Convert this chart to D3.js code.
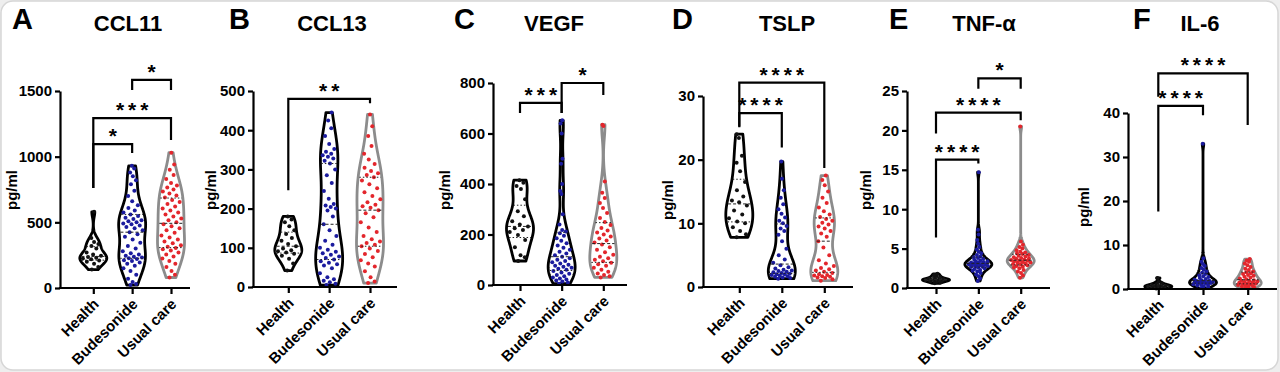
<!DOCTYPE html>
<html>
<head>
<meta charset="utf-8">
<script src="https://cdnjs.cloudflare.com/ajax/libs/d3/7.8.5/d3.min.js"></script>
<style>
  body { margin: 0; background: #eeeeee; }
  svg { display: block; font-family: Arial, "Liberation Sans", sans-serif; }
</style>
</head>
<body>
<svg id="chart" width="1280" height="372"></svg>
<script>
    // ---- data ----
    const groups = ["Health", "Budesonide", "Usual care"];
    const panelLetters = ["A", "B", "C", "D", "E", "F"];
    const panelTitles = ["CCL11", "CCL13", "VEGF", "TSLP", "TNF-α", "IL-6"];
    const yMax = [1500, 500, 800, 30, 25, 40];
    const yTicks = [
        [0, 500, 1000, 1500],
        [0, 100, 200, 300, 400, 500],
        [0, 200, 400, 600, 800],
        [0, 10, 20, 30],
        [0, 5, 10, 15, 20, 25],
        [0, 10, 20, 30, 40]
    ];

    const ccl11Health = [140, 160, 185, 200, 210, 218, 225, 230, 236, 245, 255, 270, 300, 320, 335, 350, 380, 580];
    const ccl11Bud = [22, 30, 45, 70, 100, 130, 150, 170, 185, 195, 205, 212, 220, 226, 232, 238, 245, 255, 265, 280, 300, 320, 345, 370, 390, 410, 425, 440, 455, 465, 475, 485, 492, 500, 508, 516, 525, 535, 548, 560, 575, 590, 610, 630, 660, 700, 740, 790, 820, 850, 880, 910, 930];
    const ccl11Usual = [80, 100, 130, 160, 185, 205, 225, 240, 255, 270, 285, 295, 305, 315, 325, 340, 355, 370, 385, 400, 420, 440, 455, 470, 485, 500, 515, 530, 545, 560, 575, 590, 605, 620, 640, 655, 670, 690, 705, 720, 735, 750, 765, 780, 800, 830, 860, 900, 940, 1030];

    const ccl13Health = [42, 60, 72, 80, 85, 88, 91, 94, 98, 104, 110, 118, 125, 135, 145, 155, 165, 172, 180];
    const ccl13Bud = [5, 8, 12, 16, 20, 25, 35, 48, 55, 58, 62, 66, 70, 74, 78, 82, 86, 90, 95, 100, 108, 118, 130, 145, 160, 180, 195, 200, 204, 208, 212, 225, 245, 265, 285, 300, 315, 322, 328, 332, 336, 340, 345, 352, 365, 385, 405, 425, 445];
    const ccl13Usual = [10, 14, 25, 40, 52, 60, 68, 76, 84, 92, 98, 104, 108, 112, 116, 122, 130, 140, 152, 165, 178, 188, 196, 202, 206, 210, 216, 224, 232, 242, 252, 262, 272, 280, 286, 290, 296, 304, 314, 325, 340, 360, 385, 410, 440];

    const vegfHealth = [95, 110, 118, 150, 178, 198, 210, 218, 225, 232, 240, 252, 272, 292, 340, 380, 392, 405, 415];
    const vegfBud = [5, 10, 14, 18, 22, 26, 30, 35, 40, 45, 50, 55, 60, 64, 68, 72, 76, 80, 85, 90, 95, 100, 106, 112, 118, 125, 132, 140, 148, 156, 165, 175, 185, 195, 205, 212, 218, 240, 280, 360, 372, 400, 480, 500, 600, 640, 652];
    const vegfUsual = [30, 35, 40, 46, 52, 60, 68, 76, 82, 88, 94, 100, 106, 112, 120, 130, 140, 150, 160, 168, 176, 184, 192, 200, 208, 216, 226, 238, 250, 265, 285, 305, 325, 345, 365, 410, 630, 635];

    const tslpHealth = [7.8, 8.3, 8.8, 9.4, 10.0, 10.3, 10.8, 11.4, 12.0, 12.8, 13.3, 13.6, 14.2, 15.2, 16.5, 18.2, 19.5, 20.6, 23.4, 24.0];
    const tslpBud = [1.3, 1.4, 1.5, 1.6, 1.7, 1.8, 1.9, 2.0, 2.0, 2.1, 2.2, 2.3, 2.4, 2.5, 2.6, 2.7, 2.9, 3.1, 3.4, 3.8, 4.3, 5.0, 6.0, 7.2, 8.2, 8.8, 9.2, 9.6, 10.0, 10.4, 10.9, 11.5, 12.2, 13.0, 14.0, 15.2, 17.0, 19.7];
    const tslpUsual = [1.0, 1.2, 1.4, 1.5, 1.6, 1.7, 1.8, 1.9, 2.0, 2.2, 2.4, 2.6, 2.8, 3.0, 3.3, 3.7, 4.2, 5.0, 6.2, 7.2, 7.9, 8.4, 8.8, 9.2, 9.5, 9.8, 10.1, 10.4, 10.7, 11.0, 11.4, 11.9, 12.5, 13.2, 14.0, 15.0, 16.0, 16.8, 17.5];

    const tnfHealth = [0.6, 0.7, 0.8, 0.85, 0.9, 0.95, 1.0, 1.0, 1.05, 1.1, 1.1, 1.15, 1.2, 1.3, 1.4, 1.5, 1.65, 1.8];
    const tnfBud = [0.9, 1.2, 1.5, 1.7, 1.9, 2.1, 2.2, 2.3, 2.4, 2.5, 2.6, 2.65, 2.7, 2.75, 2.8, 2.85, 2.9, 2.95, 3.0, 3.0, 3.05, 3.1, 3.15, 3.2, 3.25, 3.3, 3.35, 3.4, 3.5, 3.6, 3.7, 3.8, 3.9, 4.0, 4.2, 4.4, 4.6, 4.9, 5.2, 5.6, 6.1, 6.8, 7.4, 14.7];
    const tnfUsual = [1.3, 1.6, 1.9, 2.1, 2.3, 2.5, 2.6, 2.7, 2.8, 2.9, 3.0, 3.05, 3.1, 3.2, 3.25, 3.3, 3.4, 3.45, 3.5, 3.55, 3.6, 3.7, 3.75, 3.8, 3.9, 4.0, 4.1, 4.2, 4.3, 4.4, 4.5, 4.6, 4.8, 5.0, 5.2, 5.5, 5.9, 20.5];

    const il6Health = [0.1, 0.2, 0.3, 0.35, 0.4, 0.5, 0.55, 0.6, 0.7, 0.75, 0.8, 0.9, 1.0, 1.1, 1.3, 1.6, 2.5];
    const il6Bud = [0.2, 0.4, 0.6, 0.8, 0.9, 1.0, 1.1, 1.2, 1.3, 1.35, 1.4, 1.45, 1.5, 1.55, 1.6, 1.7, 1.8, 1.9, 2.0, 2.1, 2.3, 2.5, 2.7, 2.9, 3.1, 3.4, 3.7, 4.0, 4.4, 4.8, 5.2, 5.7, 6.2, 7.0, 33];
    const il6Usual = [0.2, 0.4, 0.5, 0.6, 0.7, 0.8, 0.9, 1.0, 1.1, 1.2, 1.3, 1.4, 1.5, 1.6, 1.7, 1.8, 1.9, 2.0, 2.2, 2.4, 2.6, 2.8, 3.0, 3.2, 3.4, 3.6, 3.8, 4.0, 4.3, 4.6, 5.0, 5.4, 5.8, 6.2, 6.5, 6.8];

    const panelData = [
        [ccl11Health, ccl11Bud, ccl11Usual],
        [ccl13Health, ccl13Bud, ccl13Usual],
        [vegfHealth, vegfBud, vegfUsual],
        [tslpHealth, tslpBud, tslpUsual],
        [tnfHealth, tnfBud, tnfUsual],
        [il6Health, il6Bud, il6Usual]
    ];

    // significance comparisons: [group a, group b, label]
    const comparisons = [
        [[1, 2, "*"], [0, 2, "***"], [0, 1, "*"]],
        [[0, 2, "**"]],
        [[1, 2, "*"], [0, 1, "***"]],
        [[0, 2, "****"], [0, 1, "****"]],
        [[1, 2, "*"], [0, 2, "****"], [0, 1, "****"]],
        [[0, 2, "****"], [0, 1, "****"]]
    ];

    // ---- layout ----
    const layout = [
        { axisX: 60, c0: 93.3, c2: 171, xEnd: 190, y0: 288, yTop: 91, letterX: 12, titleX: 128, labX: 17, labY: 190 },
        { axisX: 253, c0: 288.3, c2: 370, xEnd: 397, y0: 287, yTop: 91, letterX: 229, titleX: 332, labX: 216, labY: 190 },
        { axisX: 493, c0: 520, c2: 603.3, xEnd: 627, y0: 285, yTop: 83, letterX: 454, titleX: 554, labX: 450, labY: 190 },
        { axisX: 703, c0: 739.3, c2: 824.3, xEnd: 853, y0: 287, yTop: 96, letterX: 672, titleX: 787, labX: 673, labY: 200 },
        { axisX: 907, c0: 936, c2: 1020.7, xEnd: 1050, y0: 288, yTop: 91, letterX: 889, titleX: 984, labX: 871, labY: 190 },
        { axisX: 1128, c0: 1158.3, c2: 1247.7, xEnd: 1277, y0: 289, yTop: 113, letterX: 1133, titleX: 1200, labX: 1089, labY: 207 }
    ];
    // bracket levels in data units: [top, left leg end, right leg end]
    const bracketLevels = [
        [[1584, 1508, 1508], [1294, 761, 1127], [1096, 761, 1028]],
        [[480, 247, 469]],
        [[800, 681, 752], [721, 681, 681]],
        [[32.1, 25.1, 18.7], [27.3, 25.2, 21.9]],
        [[26.6, 25.3, 25.3], [22.25, 19.6, 21.3], [16.3, 6.4, 15.8]],
        [[49.0, 43.7, 37.3], [41.6, 17.6, 39.5]]
    ];
    const outlineColors = ["#000000", "#000000", "#8c8c8c"];
    const dotColors = ["#111111", "#1b1b9e", "#e3262c"];
    const halfW = 13.5;
    const fontStack = "Arial, 'Liberation Sans', sans-serif";

    const svg = d3.select("#chart");

    svg.append("rect")
        .attr("x", 1).attr("y", 1)
        .attr("width", 1277).attr("height", 369)
        .attr("rx", 12)
        .attr("fill", "white")
        .attr("stroke", "#d6d6d6")
        .attr("stroke-width", 1.5);

    function kde(values, bw, t) {
        let s = 0;
        for (const v of values) {
            const u = (t - v) / bw;
            s += Math.exp(-0.5 * u * u);
        }
        return s / (values.length * bw * Math.sqrt(2 * Math.PI));
    }

    function drawPanel(i) {
        const L = layout[i];
        const g = svg.append("g");

        const y = d3.scaleLinear().domain([0, yMax[i]]).range([L.y0, L.yTop]);
        const x = d3.scalePoint().domain(groups).range([L.c0, L.c2]);

        // letter and title
        g.append("text")
            .attr("x", L.letterX).attr("y", 29)
            .attr("font-size", 29).attr("font-weight", "bold")
            .text(panelLetters[i]);
        g.append("text")
            .attr("x", L.titleX).attr("y", 31)
            .attr("text-anchor", "middle")
            .attr("font-size", 22).attr("font-weight", "bold")
            .text(panelTitles[i]);

        // y label
        g.append("text")
            .attr("transform", "translate(" + L.labX + "," + L.labY + ") rotate(-90)")
            .attr("text-anchor", "middle")
            .attr("font-size", 15).attr("font-weight", "bold")
            .text("pg/ml");

        // violins
        groups.forEach((grp, k) => {
            const vals = panelData[i][k].slice().sort(d3.ascending);
            const n = vals.length;
            const mn = vals[0], mx = vals[n - 1];
            const sd = d3.deviation(vals);
            const iqr = d3.quantile(vals, 0.75) - d3.quantile(vals, 0.25);
            const bw = 0.9 * Math.min(sd, iqr / 1.34) * Math.pow(n, -0.2);
            const steps = d3.range(0, 151).map(s => mn + (mx - mn) * s / 150);
            const dens = steps.map(t => [t, kde(vals, bw, t)]);
            const dmax = d3.max(dens, d => d[1]);
            const w = d3.scaleLinear().domain([0, dmax]).range([0, halfW]);
            const cx = x(grp);

            const area = d3.area()
                .y(d => y(d[0]))
                .x0(d => cx - w(d[1]))
                .x1(d => cx + w(d[1]));

            g.append("path")
                .datum(dens)
                .attr("d", area)
                .attr("fill", "white")
                .attr("stroke", outlineColors[k])
                .attr("stroke-width", 2.8)
                .attr("stroke-linejoin", "round");

            g.append("g").selectAll("circle")
                .data(vals)
                .join("circle")
                .attr("cx", (v, j) => {
                    const f = ((j * 0.618034 + 0.31) % 1) * 2 - 1;
                    return cx + f * w(kde(vals, bw, v)) * 0.8;
                })
                .attr("cy", v => y(v))
                .attr("r", 2)
                .attr("fill", dotColors[k]);

            const qs = [0.25, 0.5, 0.75];
            qs.forEach(q => {
                const qv = d3.quantile(vals, q);
                const hw = w(kde(vals, bw, qv)) * 0.9;
                g.append("line")
                    .attr("x1", cx - hw).attr("x2", cx + hw)
                    .attr("y1", y(qv)).attr("y2", y(qv))
                    .attr("stroke", "#222")
                    .attr("stroke-width", 1)
                    .attr("stroke-dasharray", q === 0.5 ? "3,2" : "1.5,2");
            });
        });

        // axes
        const yAxis = g.append("g")
            .attr("transform", "translate(" + L.axisX + ",0)")
            .call(d3.axisLeft(y).tickValues(yTicks[i]).tickFormat(d3.format("d"))
                .tickSize(5).tickSizeOuter(0).tickPadding(3));
        yAxis.select(".domain").attr("stroke-width", 2.2);
        yAxis.selectAll(".tick line").attr("stroke-width", 2.2);
        yAxis.selectAll("text")
            .attr("font-size", 15).attr("font-weight", "bold")
            .attr("font-family", fontStack)
            .attr("fill", "#000");

        const xAxis = g.append("g")
            .attr("transform", "translate(0," + L.y0 + ")")
            .call(d3.axisBottom(x).tickSize(6).tickSizeOuter(0));
        xAxis.select(".domain").remove();
        xAxis.selectAll(".tick line").attr("stroke-width", 2.2);
        xAxis.selectAll("text")
            .attr("font-size", 15).attr("font-weight", "bold")
            .attr("font-family", fontStack)
            .attr("fill", "#000")
            .attr("text-anchor", "end")
            .attr("y", 0).attr("dy", 0)
            .attr("transform", "translate(6,17) rotate(-45)");
        g.append("line")
            .attr("x1", L.axisX - 1.1).attr("x2", L.xEnd)
            .attr("y1", L.y0).attr("y2", L.y0)
            .attr("stroke", "#000").attr("stroke-width", 2.2);

        // significance brackets
        comparisons[i].forEach((c, j) => {
            const lv = bracketLevels[i][j];
            const xa = x(groups[c[0]]), xb = x(groups[c[1]]);
            g.append("path")
                .attr("d", "M" + xa + "," + y(lv[1]) + "V" + y(lv[0]) + "H" + xb + "V" + y(lv[2]))
                .attr("fill", "none")
                .attr("stroke", "#000")
                .attr("stroke-width", 2.2);
            g.append("text")
                .attr("x", (xa + xb) / 2 + 2)
                .attr("y", y(lv[0]) - 1)
                .attr("text-anchor", "middle")
                .attr("font-size", 21).attr("font-weight", "bold")
                .attr("letter-spacing", 4)
                .text(c[2]);
        });
    }

    for (let i = 0; i < panelTitles.length; i++) drawPanel(i);
</script>
</body>
</html>
